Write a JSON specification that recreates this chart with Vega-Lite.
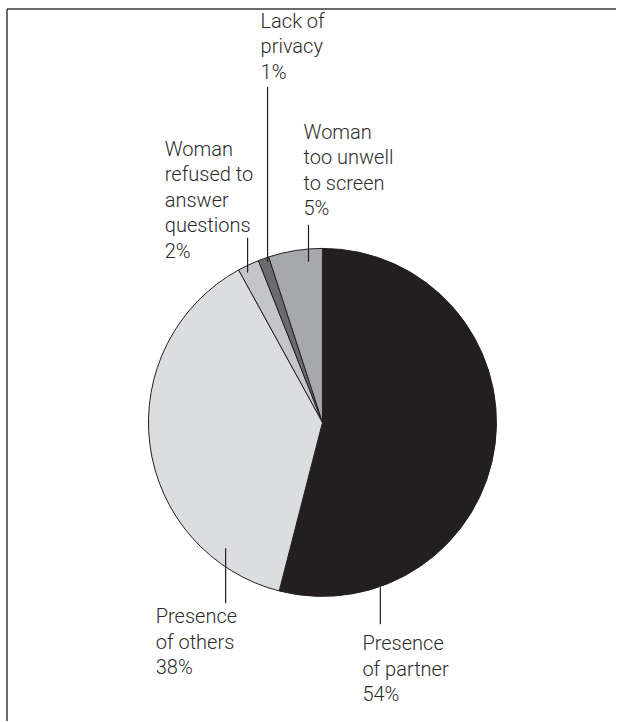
{
  "$schema": "https://vega.github.io/schema/vega-lite/v6.json",
  "width": 617,
  "height": 722,
  "autosize": {"type": "fit", "contains": "padding"},
  "padding": 0,
  "background": "white",
  "config": {"view": {"stroke": null}},
  "datasets": {
    "slices": [
      {"reason": "Presence of partner", "pct": 54, "ord": 1, "label": "Presence\nof partner\n54%", "labelX": 0.2299, "labelY": -1.2184, "leadX": 0.3333, "leadFrom": -0.9483, "leadTo": -1.1609},
      {"reason": "Presence of others", "pct": 38, "ord": 2, "label": "Presence\nof others\n38%", "labelX": -0.9598, "labelY": -1.0632, "leadX": -0.5575, "leadFrom": -0.7241, "leadTo": -1.0402},
      {"reason": "Woman refused to answer questions", "pct": 2, "ord": 3, "label": "Woman\nrefused to\nanswer\nquestions\n2%", "labelX": -0.908, "labelY": 1.6264, "leadX": -0.431, "leadFrom": 0.8621, "leadTo": 1.0632},
      {"reason": "Lack of privacy", "pct": 1, "ord": 4, "label": "Lack of\nprivacy\n1%", "labelX": -0.3563, "labelY": 2.3621, "leadX": -0.3161, "leadFrom": 0.9253, "leadTo": 1.931},
      {"reason": "Woman too unwell to screen", "pct": 5, "ord": 5, "label": "Woman\ntoo unwell\nto screen\n5%", "labelX": -0.1092, "labelY": 1.7241, "leadX": -0.0805, "leadFrom": 0.9253, "leadTo": 1.1379}
    ]
  },
  "encoding": {
    "x": {"type": "quantitative", "scale": {"domain": [-1.8563, 1.6897], "nice": false, "zero": false}, "axis": null},
    "y": {"type": "quantitative", "scale": {"domain": [-1.7184, 2.431], "nice": false, "zero": false}, "axis": null}
  },
  "layer": [
    {
      "data": {"values": [{}]},
      "mark": {"type": "rule", "stroke": "#3a3a3a", "strokeWidth": 1.5},
      "encoding": {
        "x": {"datum": -1.8161, "type": "quantitative"},
        "x2": {"datum": 1.6897},
        "y": {"datum": 2.3793, "type": "quantitative"}
      }
    },
    {
      "data": {"values": [{}]},
      "mark": {"type": "rule", "stroke": "#3a3a3a", "strokeWidth": 1.5},
      "encoding": {
        "x": {"datum": -1.8161, "type": "quantitative"},
        "y": {"datum": 2.3793, "type": "quantitative"},
        "y2": {"datum": -1.7184}
      }
    },
    {
      "data": {"name": "slices"},
      "mark": {"type": "arc", "outerRadius": 174, "stroke": "#231f20", "strokeWidth": 1},
      "encoding": {
        "x": {"datum": 0, "type": "quantitative"},
        "y": {"datum": 0, "type": "quantitative"},
        "theta": {"field": "pct", "type": "quantitative", "stack": true},
        "order": {"field": "ord", "type": "quantitative"},
        "color": {
          "field": "reason",
          "type": "nominal",
          "legend": null,
          "scale": {
            "domain": ["Presence of partner", "Presence of others", "Woman refused to answer questions", "Lack of privacy", "Woman too unwell to screen"],
            "range": ["#231f20", "#dcdde0", "#c4c5c8", "#6a6b6e", "#a6a8ab"]
          }
        }
      }
    },
    {
      "data": {"name": "slices"},
      "mark": {"type": "rule", "stroke": "#231f20", "strokeWidth": 1.2},
      "encoding": {
        "x": {"field": "leadX", "type": "quantitative"},
        "y": {"field": "leadFrom", "type": "quantitative"},
        "y2": {"field": "leadTo"}
      }
    },
    {
      "data": {"name": "slices"},
      "mark": {"type": "text", "align": "left", "baseline": "top", "lineBreak": "\n", "lineHeight": 25.5, "font": "Roboto", "fontWeight": 300, "fontSize": 20, "fill": "#2b2b2b"},
      "encoding": {
        "x": {"field": "labelX", "type": "quantitative"},
        "y": {"field": "labelY", "type": "quantitative"},
        "text": {"field": "label"}
      }
    }
  ]
}
